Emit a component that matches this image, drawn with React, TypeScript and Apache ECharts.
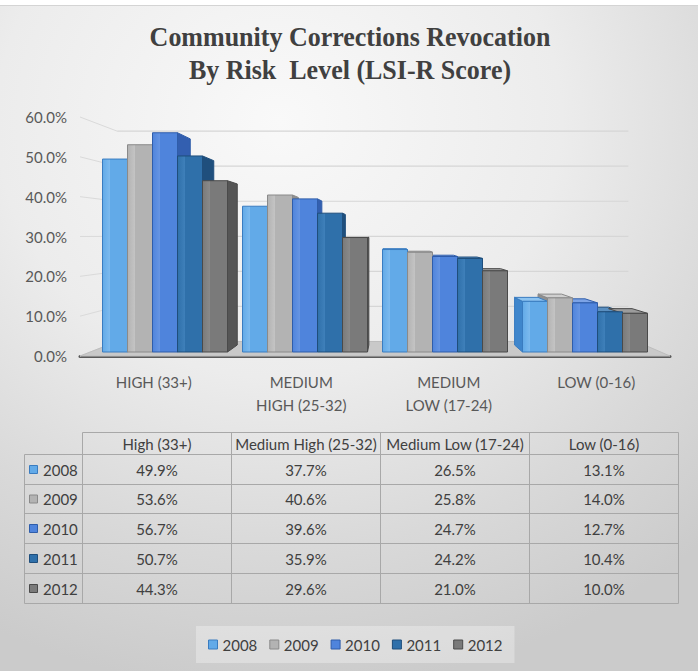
import React, { useEffect, useRef } from "react";
import * as echarts from "echarts";

// ---------- data ----------
const titleLines = ["Community Corrections Revocation", "By Risk  Level (LSI-R Score)"];
const categories = ["HIGH (33+)", "MEDIUM\nHIGH (25-32)", "MEDIUM\nLOW (17-24)", "LOW (0-16)"];
const tableHeaders = ["High (33+)", "Medium High (25-32)", "Medium Low (17-24)", "Low (0-16)"];
const years = ["2008", "2009", "2010", "2011", "2012"];
const values2008 = [49.9, 37.7, 26.5, 13.1];
const values2009 = [53.6, 40.6, 25.8, 14.0];
const values2010 = [56.7, 39.6, 24.7, 12.7];
const values2011 = [50.7, 35.9, 24.2, 10.4];
const values2012 = [44.3, 29.6, 21.0, 10.0];
const seriesValues = [values2008, values2009, values2010, values2011, values2012];
const yTicks = [0, 10, 20, 30, 40, 50, 60];

// ---------- style ----------
const palette = [
  { front: "#62aae8", light: "#7dbaee", side: "#3f86cc", top: "#8ec4f0", border: "#3a7cc0" },
  { front: "#b3b3b3", light: "#c4c4c4", side: "#8f8f8f", top: "#d0d0d0", border: "#8a8a8a" },
  { front: "#4f84dc", light: "#6795e2", side: "#335fb0", top: "#7ca3e6", border: "#2f5daa" },
  { front: "#2f70aa", light: "#3f80ba", side: "#1f4f7d", top: "#5a8fc0", border: "#1f4e7c" },
  { front: "#7a7a7a", light: "#8a8a8a", side: "#555555", top: "#9c9c9c", border: "#4a4a4a" },
];
const FONT = "Lato";
const VP = [390, 235]; // vanishing point of the 3D look
const BAR_DEPTH = 0.94;
const WALL_DEPTH = 0.88;
const BAR_SHARE = 25 / 140;

const TABLE = { yearLeft: 24.5, cols: [82.5, 231.5, 380.5, 529.5, 678.5], rows: [432.5, 454.5, 484.5, 513.5, 543.5, 573.5, 603.5] };

function decorRender(params: any, api: any) {
  const cs = params.coordSys;
  const left = cs.x;
  const right = cs.x + cs.width;
  const bx = (x: number) => VP[0] + (x - VP[0]) * WALL_DEPTH;
  const by = (y: number) => VP[1] + (y - VP[1]) * WALL_DEPTH;
  const children: any[] = [];
  yTicks.forEach((v) => {
    const y = api.coord([0, v])[1];
    children.push({
      type: "line",
      shape: { x1: left, y1: y, x2: bx(left), y2: by(y) },
      style: { stroke: "#dadada", lineWidth: 1 },
    });
    children.push({
      type: "line",
      shape: { x1: bx(left), y1: by(y), x2: bx(right) - 8, y2: by(y) },
      style: { stroke: "#d6d6d6", lineWidth: 1.2 },
    });
  });
  const y0 = api.coord([0, 0])[1];
  children.push({
    type: "polygon",
    shape: { points: [[left, y0], [right, y0], [bx(right), by(y0)], [bx(left), by(y0)]] },
    style: { fill: "#c9c9c9", stroke: "#bdbdbd", lineWidth: 1 },
  });
  return { type: "group", children };
}

function barRenderer(si: number) {
  const c = palette[si];
  return (params: any, api: any) => {
    const cat = api.value(0);
    const val = api.value(1);
    const pTop = api.coord([cat, val]);
    const pBase = api.coord([cat, 0]);
    const band = api.size([1, 0])[0];
    const bw = band * BAR_SHARE;
    const x0 = pTop[0] + (si - years.length / 2) * bw;
    const x1 = x0 + bw;
    const yt = pTop[1];
    const yb = pBase[1];
    const bx = (x: number) => VP[0] + (x - VP[0]) * BAR_DEPTH;
    const by = (y: number) => VP[1] + (y - VP[1]) * BAR_DEPTH;
    const children: any[] = [];
    if (x1 < VP[0]) {
      children.push({
        type: "polygon",
        z2: 1,
        shape: { points: [[x1, yt], [bx(x1), by(yt)], [bx(x1), by(yb)], [x1, yb]] },
        style: { fill: c.side, stroke: c.border, lineWidth: 1 },
      });
    } else if (x0 > VP[0]) {
      children.push({
        type: "polygon",
        z2: 1,
        shape: { points: [[x0, yt], [bx(x0), by(yt)], [bx(x0), by(yb)], [x0, yb]] },
        style: { fill: c.side, stroke: c.border, lineWidth: 1 },
      });
    }
    if (yt > VP[1]) {
      children.push({
        type: "polygon",
        z2: 2,
        shape: { points: [[x0, yt], [x1, yt], [bx(x1), by(yt)], [bx(x0), by(yt)]] },
        style: { fill: c.top, stroke: c.border, lineWidth: 1 },
      });
    }
    children.push({
      type: "rect",
      z2: 10,
      shape: { x: x0, y: yt, width: bw, height: yb - yt },
      style: {
        fill: {
          type: "linear", x: 0, y: 0, x2: 1, y2: 0,
          colorStops: [
            { offset: 0, color: c.front },
            { offset: 0.3, color: c.light },
            { offset: 0.32, color: c.front },
            { offset: 1, color: c.front },
          ],
        },
        stroke: c.border,
        lineWidth: 1,
      },
    });
    return { type: "group", children };
  };
}

function tableGraphics() {
  const els: any[] = [];
  const line = (x1: number, y1: number, x2: number, y2: number) =>
    els.push({ type: "line", silent: true, shape: { x1, y1, x2, y2 }, style: { stroke: "#a8a8a8", lineWidth: 1 } });
  const { yearLeft, cols, rows } = TABLE;
  const right = cols[cols.length - 1];
  line(cols[0], rows[0], right, rows[0]);
  for (let r = 1; r < rows.length; r++) line(yearLeft, rows[r], right, rows[r]);
  line(yearLeft, rows[1], yearLeft, rows[rows.length - 1]);
  cols.forEach((x) => line(x, rows[0], x, rows[rows.length - 1]));
  const txt = (text: string, x: number, y: number, align: string) =>
    els.push({
      type: "text", silent: true, x, y,
      style: { text, fontFamily: FONT, fontSize: 15, fill: "#404040", align, verticalAlign: "middle" },
    });
  tableHeaders.forEach((h, j) => txt(h, (cols[j] + cols[j + 1]) / 2, (rows[0] + rows[1]) / 2, "center"));
  years.forEach((yr, i) => {
    const yc = (rows[i + 1] + rows[i + 2]) / 2;
    els.push({
      type: "rect", silent: true,
      shape: { x: 29.5, y: yc - 4, width: 8, height: 8 },
      style: { fill: palette[i].front, stroke: palette[i].border, lineWidth: 1 },
    });
    txt(yr, 43, yc, "left");
    seriesValues[i].forEach((v, j) => txt(v.toFixed(1) + "%", (cols[j] + cols[j + 1]) / 2, yc, "center"));
  });
  return els;
}

export default function App() {
  const ref = useRef<HTMLDivElement>(null);
  useEffect(() => {
    if (!ref.current) return;
    const chart = echarts.init(ref.current, null, { renderer: "svg" });
    const option: any = {
      animation: false,
      backgroundColor: "transparent",
      grid: [
        { left: 80, right: 28, top: 117, bottom: 315 },
        { left: 95, right: 43, top: 120, bottom: 319 },
      ],
      xAxis: [
        {
          type: "category", gridIndex: 0, data: categories,
          axisLine: { lineStyle: { color: "#5a5a5a", width: 3 } },
          axisTick: { show: false },
          axisLabel: { margin: 14, fontFamily: FONT, fontSize: 15, lineHeight: 23, color: "#595959" },
        },
        { type: "category", gridIndex: 1, data: categories, show: false },
      ],
      yAxis: [
        {
          type: "value", gridIndex: 0, min: 0, max: 60, interval: 10,
          axisLine: { show: false }, axisTick: { show: false }, splitLine: { show: false },
          axisLabel: { margin: 13, fontFamily: FONT, fontSize: 15, color: "#595959", formatter: (v: number) => v.toFixed(1) + "%" },
        },
        { type: "value", gridIndex: 1, min: 0, max: 60, show: false, splitLine: { show: false } },
      ],
      legend: {
        left: 196, top: 626,
        data: years.map((y, i) => ({ name: y, icon: "rect", itemStyle: { color: palette[i].front, borderColor: palette[i].border, borderWidth: 1 } })),
        itemWidth: 9, itemHeight: 9, itemGap: 12,
        textStyle: { fontFamily: FONT, fontSize: 15, color: "#404040" },
        backgroundColor: "rgba(255,255,255,0.3)",
        padding: [11, 12],
        selectedMode: false,
      },
      graphic: [
        { type: "rect", silent: true, shape: { x: 0, y: 0, width: 698, height: 5 }, style: { fill: "#ffffff" } },
        { type: "line", silent: true, shape: { x1: 0, y1: 5.5, x2: 698, y2: 5.5 }, style: { stroke: "#d4d4d4", lineWidth: 1 } },
        ...titleLines.map((t, i) => ({
          type: "text", silent: true, x: 350, y: 37 + i * 33, scaleY: 1.05,
          style: { text: t, fontFamily: "Liberation Serif", fontWeight: "bold", fontSize: 26, fill: "#404040", align: "center", verticalAlign: "middle" },
        })),
        ...tableGraphics(),
      ],
      series: [
        {
          type: "custom", name: "decor", xAxisIndex: 0, yAxisIndex: 0, z: 1, silent: true,
          data: [[0, 0]], renderItem: decorRender,
        },
        ...years.map((y, i) => ({
          type: "custom", name: y, xAxisIndex: 1, yAxisIndex: 1, z: 2,
          itemStyle: { color: palette[i].front },
          encode: { x: 0, y: 1 },
          data: seriesValues[i].map((v, j) => [j, v]),
          renderItem: barRenderer(i),
        })),
      ],
    };
    chart.setOption(option);
    return () => chart.dispose();
  }, []);
  return (
    <div
      style={{
        position: "absolute", left: 0, top: 0, width: 698, height: 671,
        background: "radial-gradient(ellipse 90% 85% at 40% 18%, #f9f9f9 0%, #ececec 45%, #d9d9d9 75%, #cbcbcb 100%)",
      }}
    >
      <div ref={ref} style={{ width: 698, height: 671 }} />
    </div>
  );
}
